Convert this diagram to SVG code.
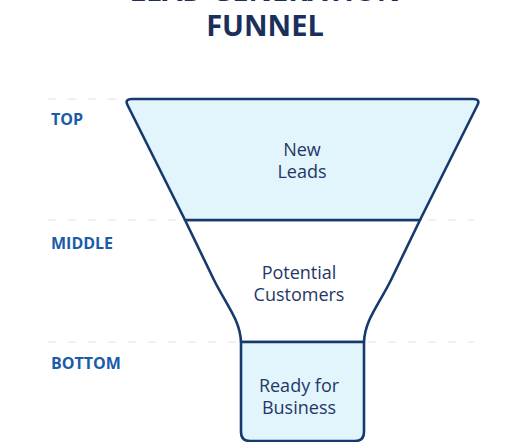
<svg xmlns="http://www.w3.org/2000/svg" width="530" height="442" viewBox="0 0 530 442">
<style>
.title{font-family:"Open Sans","Liberation Sans",sans-serif;font-weight:700;font-size:29px;fill:#1b2f5c;text-anchor:middle}
.lvl{font-family:"Open Sans","Liberation Sans",sans-serif;font-weight:700;font-size:16px;fill:#1a5ca8}
.stage{font-family:"Open Sans","Liberation Sans",sans-serif;font-size:18px;fill:#1f3766;text-anchor:middle}
.guide{stroke:#ebebeb;stroke-width:1.5;stroke-dasharray:8 12;fill:none}
.shape{stroke:#163a6e;stroke-width:2.6;stroke-linejoin:round}
.blue{fill:#e2f5fd}
.white{fill:#ffffff}
</style>
<rect width="530" height="442" fill="#ffffff"/>
<g id="title">
<text class="title" x="265" y="1">LEAD GENERATION</text>
<text class="title" x="265" y="36">FUNNEL</text>
</g>
<g id="guides">
<line class="guide" x1="48" y1="99" x2="474" y2="99"/>
<line class="guide" x1="48" y1="220" x2="474" y2="220"/>
<line class="guide" x1="48" y1="342" x2="474" y2="342"/>
</g>
<g id="labels">
<text class="lvl" x="51" y="125">TOP</text>
<text class="lvl" x="51" y="249">MIDDLE</text>
<text class="lvl" x="51" y="369">BOTTOM</text>
</g>
<g id="middle">
<path class="shape white" d="M185,220 L214,280 C227,306 240,320 241,342 L364,342 C365,320 378,306 391,280 L420,220 Z"/>
<text class="stage" x="299" y="279">Potential</text>
<text class="stage" x="299" y="301">Customers</text>
</g>
<g id="top">
<path class="shape blue" d="M127.5,105 Q124.5,99 132,99 L473,99 Q480.5,99 477.5,105 L420,220 L185,220 Z"/>
<text class="stage" x="302" y="156">New</text>
<text class="stage" x="302" y="178">Leads</text>
</g>
<g id="bottom">
<path class="shape blue" d="M241,342 L364,342 L364,432 Q364,441 355,441 L250,441 Q241,441 241,432 Z"/>
<text class="stage" x="299" y="392">Ready for</text>
<text class="stage" x="299" y="414">Business</text>
</g>
</svg>
